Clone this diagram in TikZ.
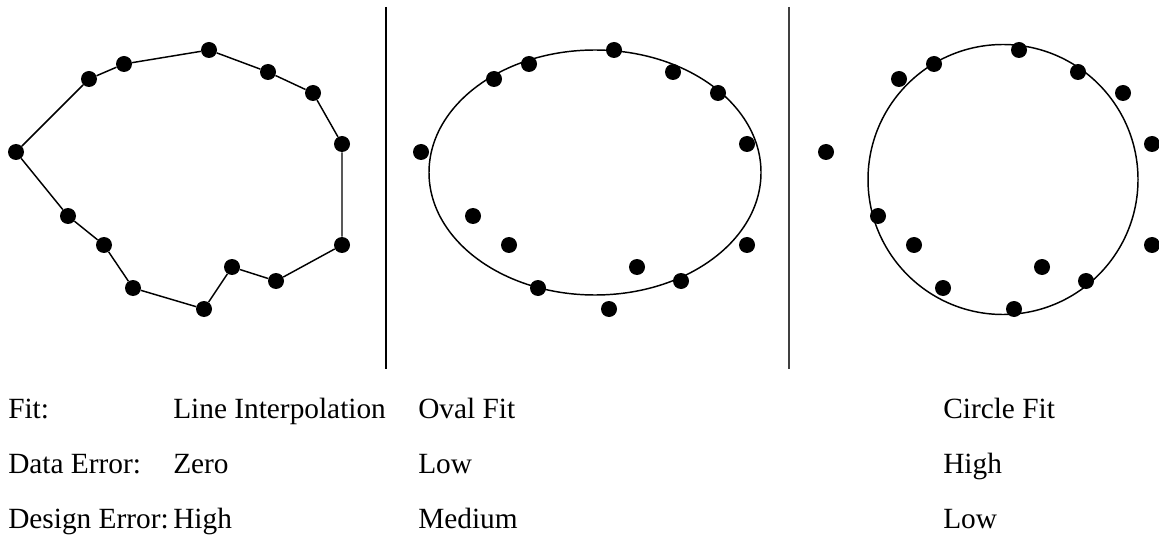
\documentclass[tikz,border=0pt]{standalone}
\usepackage{fontspec}
\setmainfont{Liberation Serif}
\usetikzlibrary{positioning}

\begin{document}
\begin{tikzpicture}[x=0.75pt, y=-0.75pt,
    dot/.style={circle, fill=black, inner sep=0pt, minimum size=12pt},
    fitline/.style={line width=1.1pt},
    sep/.style={line width=1.6pt},
    lbl/.style={anchor=base west, inner sep=0pt, font=\fontsize{22}{26}\selectfont}
]
\useasboundingbox (0,0) rectangle (1159,538);

% data points, same set in each panel
\foreach \s/\sh in {a/0, b/405, c/810}{
  \foreach \px/\py [count=\i] in {16/152, 89/79, 124/64, 209/50, 268/72, 313/93, 342/144,
                                  342/245, 276/281, 232/267, 204/309, 133/288, 104/245, 68/216}
    \node[dot] (\s\i) at (\px+\sh,\py) {};
}

% line interpolation
\draw[fitline] (a1) -- (a2) -- (a3) -- (a4) -- (a5) -- (a6) -- (a7) -- (a8)
  -- (a9) -- (a10) -- (a11) -- (a12) -- (a13) -- (a14) -- (a1);

% oval fit
\draw[fitline] (595,172.5) ellipse [x radius=166, y radius=122.5];

% circle fit
\draw[fitline] (1003,179.5) circle [radius=135];

% separators
\coordinate (s1t) at (386,7);
\coordinate (s1b) at (386,369);
\coordinate (s2t) at (789,7);
\coordinate (s2b) at (789,369);
\draw[sep] (s1t) -- (s1b);
\draw[sep, black!75] (s2t) -- (s2b);

% table of labels
\node[lbl] (fitL)   at (8,418)   {Fit:};
\node[lbl] (dataL)  at (8,473)   {Data Error:};
\node[lbl] (desL)   at (8,528)   {Design Error:};
\node[lbl] (fitA)   at (173,418) {Line Interpolation};
\node[lbl] (dataA)  at (173,473) {Zero};
\node[lbl] (desA)   at (173,528) {High};
\node[lbl] (fitB)   at (418,418) {Oval Fit};
\node[lbl] (dataB)  at (418,473) {Low};
\node[lbl] (desB)   at (418,528) {Medium};
\node[lbl] (fitC)   at (943,418) {Circle Fit};
\node[lbl] (dataC)  at (943,473) {High};
\node[lbl] (desC)   at (943,528) {Low};
\end{tikzpicture}
\end{document}
